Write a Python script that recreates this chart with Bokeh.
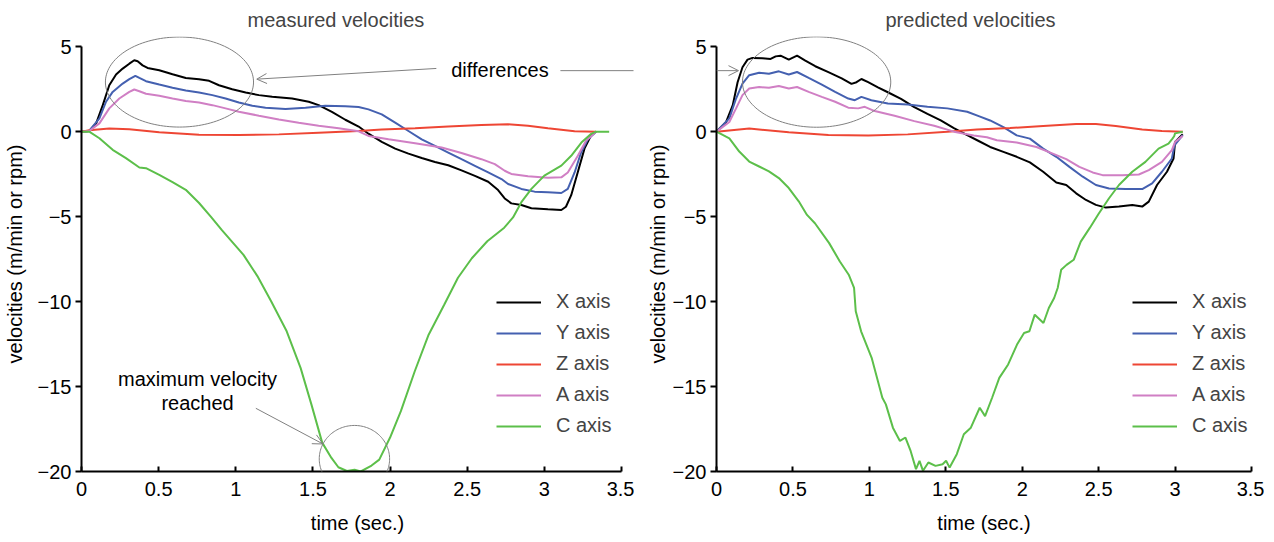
import numpy as np
from bokeh.plotting import figure
from bokeh.models import (Range1d, FixedTicker, Label, Arrow, OpenHead,
                          PolyAnnotation, NumeralTickFormatter, LinearAxis)
from bokeh.layouts import row
from bokeh.embed import file_html
from bokeh.resources import INLINE

FONT = "Liberation Sans"

# ---------------- data ----------------
series_names = ["X axis", "Y axis", "Z axis", "A axis", "C axis"]
series_colors = ["#000000", "#4460b0", "#ee4634", "#d07fc4", "#5cbf4a"]
x_ticks = [0, 0.5, 1, 1.5, 2, 2.5, 3, 3.5]
y_ticks = [-20, -15, -10, -5, 0, 5]

# measured velocities
meas_x_t = [0, 0.05, 0.095, 0.138, 0.18, 0.224, 0.267, 0.31, 0.342, 0.364, 0.396, 0.428, 0.504, 0.59, 0.676,
            0.762, 0.827, 0.891, 0.977, 1.064, 1.15, 1.236, 1.365, 1.473, 1.537, 1.623, 1.71, 1.796, 1.86,
            1.946, 2.033, 2.119, 2.205, 2.291, 2.377, 2.463, 2.55, 2.636, 2.70, 2.743, 2.786, 2.851, 2.916,
            3.023, 3.11, 3.14, 3.174, 3.217, 3.26, 3.303, 3.335]
meas_x_v = [0, 0.04, 0.49, 1.56, 2.73, 3.36, 3.71, 4.0, 4.2, 4.14, 3.9, 3.75, 3.61, 3.38, 3.16,
            3.09, 2.99, 2.73, 2.5, 2.3, 2.15, 2.05, 1.95, 1.76, 1.56, 1.17, 0.7, 0.3, -0.12,
            -0.6, -1.0, -1.29, -1.55, -1.79, -1.98, -2.28, -2.6, -2.95, -3.44, -3.93, -4.22, -4.32, -4.51,
            -4.57, -4.61, -4.42, -3.74, -2.37, -1.0, -0.22, 0]

meas_y_t = [0, 0.05, 0.116, 0.159, 0.202, 0.267, 0.31, 0.349, 0.375, 0.418, 0.504, 0.59, 0.676, 0.762,
            0.848, 0.934, 1.02, 1.107, 1.193, 1.322, 1.452, 1.58, 1.71, 1.796, 1.86, 1.946, 2.033, 2.119,
            2.205, 2.291, 2.377, 2.463, 2.55, 2.636, 2.722, 2.765, 2.851, 2.937, 3.023, 3.11, 3.152, 3.196,
            3.238, 3.282, 3.335]
meas_y_v = [0, 0.04, 0.78, 1.76, 2.34, 2.83, 3.09, 3.28, 3.16, 2.97, 2.77, 2.58, 2.42, 2.30,
            2.15, 1.95, 1.72, 1.52, 1.41, 1.33, 1.41, 1.52, 1.5, 1.45, 1.31, 1.02, 0.53, 0.04,
            -0.45, -0.84, -1.23, -1.62, -2.01, -2.4, -2.79, -3.08, -3.37, -3.53, -3.57, -3.61, -3.37, -2.4,
            -1.23, -0.45, 0]

meas_z_t = [0, 0.05, 0.18, 0.31, 0.504, 0.762, 1.02, 1.279, 1.537, 1.796, 1.946, 2.162, 2.377, 2.592,
            2.765, 2.894, 3.023, 3.196, 3.335]
meas_z_v = [0, 0.08, 0.18, 0.14, -0.04, -0.18, -0.2, -0.16, -0.06, 0.04, 0.12, 0.2, 0.3, 0.39,
            0.43, 0.35, 0.2, 0.03, 0]

meas_a_t = [0, 0.05, 0.116, 0.18, 0.245, 0.31, 0.342, 0.375, 0.418, 0.504, 0.59, 0.676, 0.762, 0.848,
            0.934, 1.02, 1.15, 1.279, 1.408, 1.537, 1.667, 1.796, 1.86, 1.99, 2.162, 2.334, 2.463, 2.592,
            2.679, 2.743, 2.786, 2.894, 3.023, 3.11, 3.152, 3.217, 3.27, 3.335]
meas_a_v = [0, 0.04, 0.49, 1.37, 1.95, 2.34, 2.48, 2.38, 2.23, 2.11, 1.95, 1.8, 1.72, 1.56,
            1.37, 1.17, 0.94, 0.72, 0.53, 0.35, 0.2, 0.02, -0.25, -0.45, -0.68, -0.93, -1.26, -1.62,
            -1.91, -2.3, -2.49, -2.63, -2.71, -2.69, -2.4, -1.42, -0.54, 0]

meas_c_t = [0, 0.05, 0.116, 0.202, 0.288, 0.375, 0.418, 0.504, 0.59, 0.676, 0.762, 0.838, 0.91, 1.05,
            1.14, 1.23, 1.33, 1.42, 1.49, 1.56, 1.62, 1.665, 1.72, 1.77, 1.81, 1.88, 1.93, 2.0, 2.07,
            2.16, 2.25, 2.35, 2.44, 2.53, 2.63, 2.74, 2.797, 2.851, 2.916, 3.0, 3.11, 3.174, 3.24, 3.30,
            3.335, 3.42]
meas_c_v = [0, 0, -0.39, -1.07, -1.56, -2.11, -2.15, -2.54, -2.97, -3.42, -4.2, -5.0, -5.8, -7.25,
            -8.5, -10.0, -11.75, -13.9, -16.05, -18.3, -19.2, -19.75, -19.97, -19.9, -20.0, -19.65, -19.3,
            -18.0, -16.45, -14.1, -11.95, -10.2, -8.6, -7.45, -6.45, -5.65, -5.05, -4.15, -3.37, -2.59,
            -2.0, -1.42, -0.64, -0.15, 0, 0]

# predicted velocities
pred_x_t = [0, 0.063, 0.106, 0.138, 0.17, 0.203, 0.235, 0.30, 0.354, 0.387, 0.419, 0.473, 0.527, 0.581,
            0.646, 0.732, 0.819, 0.883, 0.916, 0.948, 0.992, 1.056, 1.121, 1.207, 1.294, 1.38, 1.467,
            1.553, 1.64, 1.715, 1.79, 1.877, 1.964, 2.05, 2.137, 2.223, 2.288, 2.353, 2.417, 2.482, 2.547,
            2.633, 2.72, 2.785, 2.828, 2.882, 2.947, 2.99, 3.0, 3.05]
pred_x_v = [0, 0.57, 1.54, 2.91, 3.79, 4.24, 4.34, 4.32, 4.28, 4.43, 4.47, 4.24, 4.47, 4.18,
            3.85, 3.5, 3.14, 2.81, 2.91, 3.1, 2.91, 2.61, 2.32, 1.93, 1.44, 1.05, 0.66,
            0.21, -0.21, -0.55, -0.9, -1.19, -1.48, -1.81, -2.36, -2.99, -3.14, -3.63, -4.02, -4.31, -4.47,
            -4.41, -4.31, -4.41, -4.12, -3.14, -2.36, -1.58, -0.6, -0.15]

pred_y_t = [0, 0.084, 0.128, 0.17, 0.214, 0.279, 0.343, 0.408, 0.473, 0.527, 0.603, 0.689, 0.776, 0.862,
            0.905, 0.948, 1.013, 1.121, 1.251, 1.38, 1.51, 1.64, 1.72, 1.79, 1.877, 1.964, 2.05, 2.137,
            2.223, 2.309, 2.396, 2.482, 2.568, 2.677, 2.785, 2.85, 2.914, 2.979, 2.996, 3.05]
pred_y_v = [0, 0.78, 1.95, 2.83, 3.32, 3.47, 3.41, 3.55, 3.36, 3.51, 3.16, 2.77, 2.34, 1.95,
            1.85, 2.05, 1.85, 1.66, 1.6, 1.46, 1.37, 1.17, 0.9, 0.66, 0.27, -0.22, -0.41, -1.0,
            -1.48, -2.07, -2.65, -3.14, -3.34, -3.38, -3.38, -3.04, -2.36, -1.58, -0.8, -0.2]

pred_z_t = [0, 0.214, 0.473, 0.732, 0.992, 1.251, 1.51, 1.704, 1.92, 2.137, 2.353, 2.482, 2.612, 2.785,
            2.914, 3.05]
pred_z_v = [0, 0.18, -0.04, -0.2, -0.23, -0.16, 0.0, 0.13, 0.21, 0.33, 0.45, 0.45, 0.33, 0.13,
            0.04, 0.0]

pred_a_t = [0, 0.084, 0.128, 0.17, 0.214, 0.279, 0.343, 0.408, 0.473, 0.527, 0.603, 0.689, 0.776, 0.862,
            0.927, 0.97, 1.035, 1.165, 1.294, 1.424, 1.553, 1.683, 1.769, 1.834, 1.964, 2.093, 2.2, 2.288,
            2.374, 2.461, 2.526, 2.655, 2.763, 2.828, 2.914, 2.979, 3.0, 3.05]
pred_a_v = [0, 0.57, 1.37, 2.15, 2.54, 2.63, 2.58, 2.69, 2.54, 2.63, 2.34, 2.05, 1.76, 1.41,
            1.37, 1.46, 1.21, 0.94, 0.62, 0.35, 0.0, -0.23, -0.33, -0.51, -0.64, -0.9, -1.29, -1.62,
            -2.07, -2.4, -2.56, -2.56, -2.52, -2.26, -1.78, -1.09, -0.6, -0.25]

pred_c_t = [0, 0.084, 0.149, 0.214, 0.279, 0.343, 0.408, 0.473, 0.538, 0.592, 0.644, 0.737, 0.807, 0.865,
            0.9, 0.911, 0.946, 1.015, 1.085, 1.108, 1.154, 1.2, 1.236, 1.27, 1.305, 1.328, 1.351, 1.386,
            1.433, 1.479, 1.502, 1.525, 1.572, 1.618, 1.664, 1.722, 1.757, 1.803, 1.85, 1.908, 1.966,
            2.012, 2.047, 2.082, 2.139, 2.174, 2.209, 2.232, 2.255, 2.29, 2.337, 2.383, 2.441, 2.499,
            2.568, 2.633, 2.72, 2.806, 2.892, 2.957, 2.983, 2.994, 3.0, 3.05]
pred_c_v = [0, -0.39, -1.17, -1.76, -2.05, -2.34, -2.73, -3.32, -4.1, -4.9, -5.39, -6.56, -7.64, -8.42,
            -9.2, -10.57, -11.75, -13.31, -15.66, -16.05, -17.42, -18.2, -18.0, -18.79, -19.86, -19.37,
            -19.96, -19.47, -19.67, -19.57, -19.37, -19.77, -18.98, -17.81, -17.42, -16.25, -16.74,
            -15.66, -14.49, -13.7, -12.53, -11.85, -11.75, -10.77, -11.26, -10.38, -9.79, -9.2, -8.13,
            -7.84, -7.54, -6.47, -5.68, -4.85, -3.92, -3.14, -2.36, -1.78, -1.0, -0.7, -0.41, -0.27,
            -0.1, 0]

measured = [(meas_x_t, meas_x_v), (meas_y_t, meas_y_v), (meas_z_t, meas_z_v),
            (meas_a_t, meas_a_v), (meas_c_t, meas_c_v)]
predicted = [(pred_x_t, pred_x_v), (pred_y_t, pred_y_v), (pred_z_t, pred_z_v),
             (pred_a_t, pred_a_v), (pred_c_t, pred_c_v)]

ANN = "#808080"
theta = np.linspace(0, 2 * np.pi, 145)
Y_TOP = 5.6   # a little head-room so the callout ellipse is not clipped
PX_PER_UNIT = 540 / 3.5


def ellipse(cx, cy, rx, ry):
    return list(cx + rx * np.cos(theta)), list(cy + ry * np.sin(theta))


def make_panel(title, data, frame_w, x_end, border_left, border_right, title_offset,
               ylab_standoff, legend_x):
    p = figure(frame_width=frame_w, frame_height=435,
               x_range=Range1d(0, x_end), y_range=Range1d(-20, Y_TOP),
               output_backend="svg", toolbar_location=None,
               min_border_left=border_left, min_border_right=border_right, min_border_top=30,
               min_border_bottom=1)
    p.outline_line_color = None
    p.grid.visible = False
    p.background_fill_color = "white"

    p.title.text = title
    p.title.text_font = FONT
    p.title.text_font_size = "20px"
    p.title.text_font_style = "normal"
    p.title.align = "left"
    p.title.offset = title_offset
    p.title.standoff = 12

    for name, color, (t, v) in zip(series_names, series_colors, data):
        p.line(t, v, line_color=color, line_width=2, legend_label=name)

    p.xaxis.ticker = FixedTicker(ticks=x_ticks)
    p.xaxis.formatter = NumeralTickFormatter(format="0.[0]")
    p.yaxis.ticker = FixedTicker(ticks=y_ticks)
    p.xaxis.bounds = (0, 3.5)
    p.yaxis.bounds = (-20, 5)
    for ax in (p.xaxis[0], p.yaxis[0]):
        ax.axis_line_width = 2
        ax.axis_line_color = "black"
        ax.major_tick_line_width = 2
        ax.major_tick_line_color = "black"
        ax.minor_tick_line_color = None
        ax.major_label_text_font = FONT
        ax.major_label_text_font_size = "20px"
        ax.major_label_text_color = "black"
        ax.axis_label_text_font = FONT
        ax.axis_label_text_font_size = "20px"
        ax.axis_label_text_font_style = "normal"
        ax.axis_label_text_color = "black"
    p.xaxis.major_tick_in = 5
    p.xaxis.major_tick_out = 0
    p.yaxis.major_tick_in = 0
    p.yaxis.major_tick_out = 6
    p.xaxis.major_label_standoff = 10
    p.yaxis.major_label_standoff = 4
    p.xaxis.axis_label = "time (sec.)"
    p.yaxis.axis_label = "velocities (m/min or rpm)"
    p.xaxis.axis_label_standoff = 13
    p.yaxis.axis_label_standoff = ylab_standoff

    lg = p.legend[0]
    lg.location = (legend_x, 34)
    lg.border_line_color = None
    lg.background_fill_alpha = 0
    lg.padding = 0
    lg.margin = 0
    lg.spacing = 8
    lg.glyph_width = 45
    lg.glyph_height = 20
    lg.label_height = 20
    lg.label_standoff = 15
    lg.label_text_font = FONT
    lg.label_text_font_size = "20px"
    return p


# left frame: 540 px for 0..3.5 plus 12 px beyond 3.5 so the callout line reaches the edge
p1 = make_panel("measured velocities", measured, 552, 3.5 + 12 / PX_PER_UNIT, 75, 1, 166, 9, 415)
p2 = make_panel("predicted velocities", predicted, 535, 3.5, 82, 13, 169, 1, 416)

# ---- annotations, measured panel ----
ex, ey = ellipse(0.635, 2.92, 0.48, 2.65)
p1.add_layout(PolyAnnotation(xs=ex, ys=ey, line_color=ANN, line_alpha=1, line_width=1, fill_color=None))
p1.add_layout(Label(x=2.712, y=3.62, text="differences", text_align="center", text_baseline="middle",
                    text_font=FONT, text_font_size="20px", text_color="black"))
p1.add_layout(Arrow(x_start=2.30, y_start=3.72, x_end=1.136, y_end=3.09, line_color=ANN, line_width=1,
                    end=OpenHead(size=10, line_color=ANN, line_width=1)))
p1.add_layout(PolyAnnotation(xs=[3.104, 3.8], ys=[3.59, 3.59], line_color=ANN, line_alpha=1,
                             line_width=1, fill_color=None))
p1.add_layout(Label(x=0.752, y=-15.27, text="maximum velocity\nreached", text_align="center",
                    text_baseline="middle", text_line_height=1.1,
                    text_font=FONT, text_font_size="20px", text_color="black"))
p1.add_layout(Arrow(x_start=1.13, y_start=-16.28, x_end=1.565, y_end=-18.38, line_color=ANN, line_width=1,
                    end=OpenHead(size=10, line_color=ANN, line_width=1)))
cx, cy = ellipse(1.769, -19.26, 0.228, 1.97)
p1.add_layout(PolyAnnotation(xs=cx, ys=cy, line_color=ANN, line_alpha=1, line_width=1, fill_color=None))

# ---- annotations, predicted panel ----
ex2, ey2 = ellipse(0.655, 2.92, 0.485, 2.66)
p2.add_layout(PolyAnnotation(xs=ex2, ys=ey2, line_color=ANN, line_alpha=1, line_width=1, fill_color=None))
# continuation of the "differences" leader line through the left margin of this panel
leader = LinearAxis(fixed_location=3.59, bounds=(-0.56, 0.0), ticker=FixedTicker(ticks=[]),
                    axis_line_color=ANN, axis_line_width=1, major_tick_line_color=None,
                    minor_tick_line_color=None, major_label_text_color=None,
                    major_tick_in=0, major_tick_out=0, major_label_standoff=0)
p2.add_layout(leader, "below")
p2.add_layout(Arrow(x_start=0.0, y_start=3.59, x_end=0.144, y_end=3.59, line_color=ANN, line_width=1,
                    end=OpenHead(size=10, line_color=ANN, line_width=1)))

layout = row(p1, p2)
open("out.html", "w").write(file_html(layout, INLINE))
